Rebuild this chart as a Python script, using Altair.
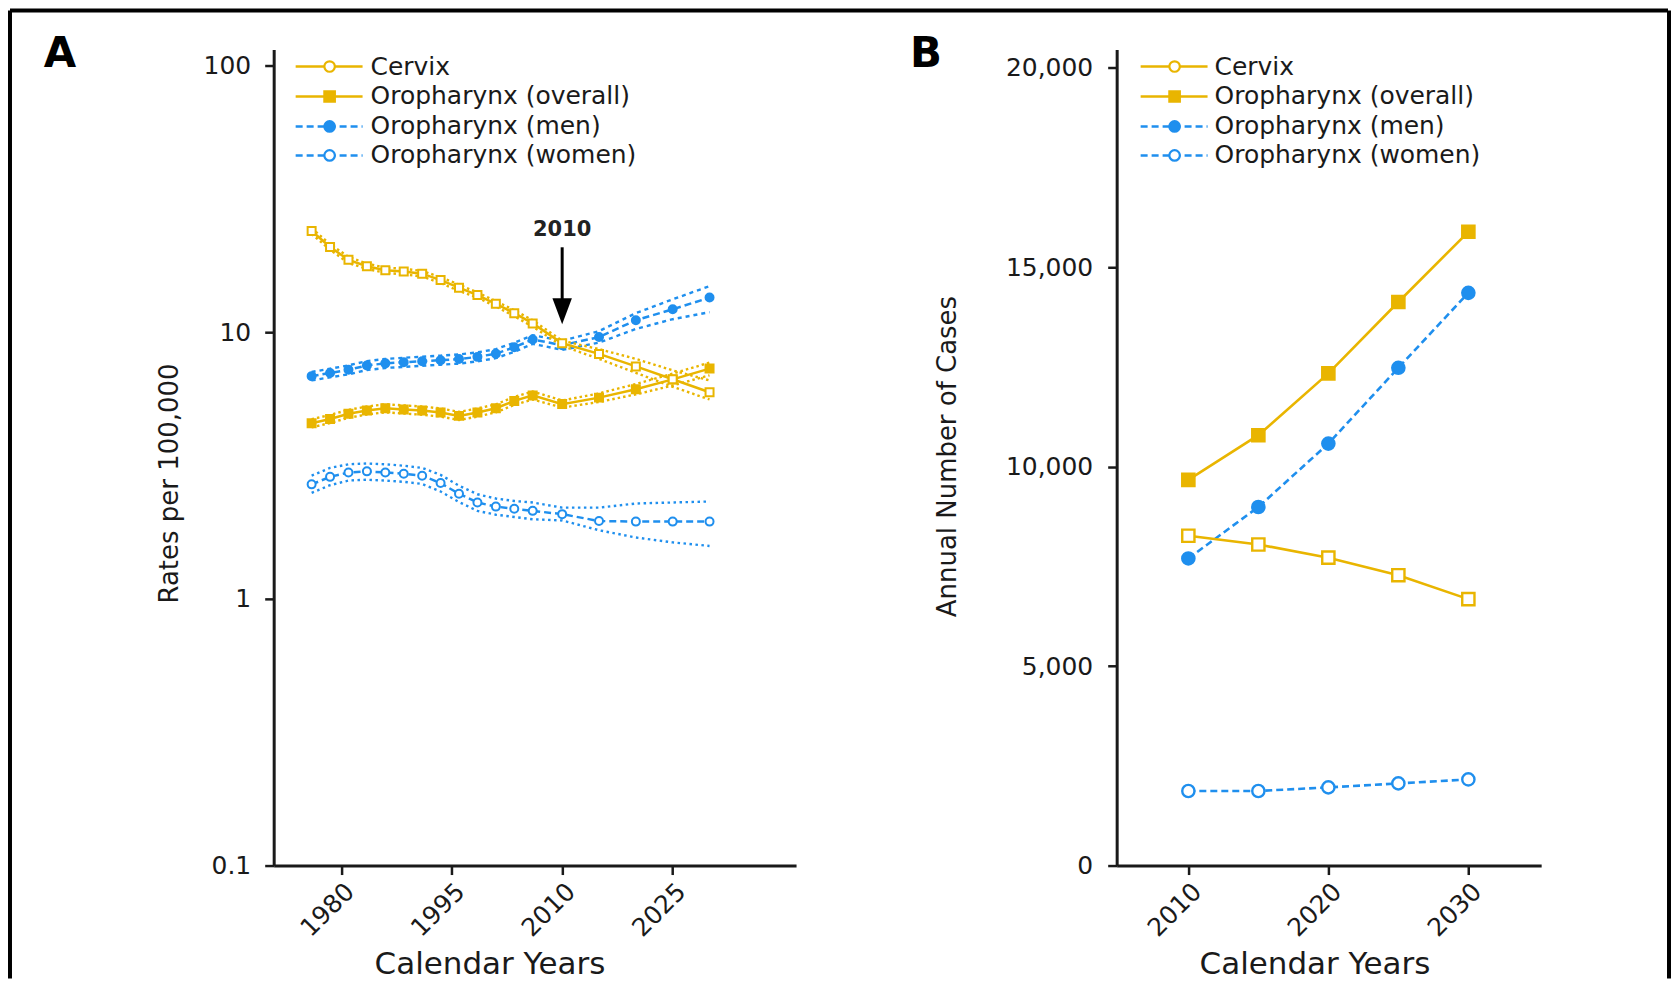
import altair as alt
import pandas as pd

FONT = "DejaVu Sans"
GOLD = "#E9B500"
BLUE = "#1F8FEE"
INK = "#1a1a1a"

series_names = ["Cervix", "Oropharynx (overall)", "Oropharynx (men)", "Oropharynx (women)"]

# ---------------- Panel A: rates per 100,000 (log scale) ----------------
years_a = [1976, 1978.5, 1981, 1983.5, 1986, 1988.5, 1991, 1993.5, 1996, 1998.5,
           2001, 2003.5, 2006, 2010, 2015, 2020, 2025, 2030]

cervix_a = [24.0, 20.9, 18.7, 17.7, 17.1, 16.9, 16.6, 15.7, 14.7, 13.8, 12.8, 11.8, 10.8,
            9.1, 8.3, 7.45, 6.67, 5.96]
cervix_a_hi = [24.6, 21.4, 19.2, 18.1, 17.5, 17.3, 17.0, 16.1, 15.1, 14.1, 13.1, 12.1, 11.1,
               9.3, 8.65, 7.95, 7.2, 6.6]
cervix_a_lo = [23.4, 20.4, 18.2, 17.3, 16.7, 16.5, 16.2, 15.3, 14.3, 13.5, 12.5, 11.5, 10.5,
               8.9, 7.95, 7.05, 6.25, 5.6]

overall_a = [4.56, 4.73, 4.95, 5.09, 5.19, 5.14, 5.09, 5.00, 4.86, 5.00, 5.19, 5.53, 5.80,
             5.38, 5.69, 6.12, 6.66, 7.31]
overall_a_hi = [4.72, 4.90, 5.12, 5.27, 5.37, 5.32, 5.27, 5.18, 5.03, 5.18, 5.37, 5.72, 6.00,
                5.55, 5.90, 6.40, 7.00, 7.70]
overall_a_lo = [4.40, 4.57, 4.78, 4.92, 5.01, 4.96, 4.91, 4.83, 4.69, 4.83, 5.01, 5.34, 5.60,
                5.22, 5.48, 5.85, 6.32, 6.90]

men_a = [6.85, 7.04, 7.24, 7.51, 7.65, 7.72, 7.79, 7.86, 7.94, 8.09, 8.32, 8.79, 9.40,
         8.95, 9.6, 11.1, 12.2, 13.5]
men_a_hi = [7.10, 7.30, 7.52, 7.80, 7.95, 8.03, 8.10, 8.18, 8.26, 8.41, 8.65, 9.14, 9.75,
            9.30, 10.1, 11.8, 13.3, 14.9]
men_a_lo = [6.60, 6.78, 6.96, 7.22, 7.35, 7.42, 7.49, 7.56, 7.63, 7.78, 8.00, 8.45, 9.05,
            8.60, 9.15, 10.3, 11.2, 11.9]

women_a = [2.69, 2.87, 2.98, 3.01, 2.98, 2.95, 2.90, 2.72, 2.48, 2.30, 2.22, 2.18, 2.14,
           2.08, 1.96, 1.95, 1.95, 1.95]
women_a_hi = [2.90, 3.10, 3.20, 3.22, 3.20, 3.16, 3.10, 2.92, 2.66, 2.47, 2.38, 2.33, 2.30,
              2.20, 2.20, 2.28, 2.30, 2.32]
women_a_lo = [2.50, 2.67, 2.78, 2.80, 2.78, 2.75, 2.70, 2.53, 2.31, 2.14, 2.07, 2.03, 1.99,
              1.97, 1.81, 1.70, 1.63, 1.58]

ticks_a_x = [1980, 1995, 2010, 2025]
ticks_a_y = [0.1, 1, 10, 100]
annotation_year = [2010]
annotation_label = ["2010"]

# ---------------- Panel B: annual number of cases ----------------
years_b = [2010, 2015, 2020, 2025, 2030]
cervix_b = [8270, 8050, 7720, 7280, 6680]
overall_b = [9670, 10790, 12340, 14130, 15890]
men_b = [7700, 8990, 10580, 12480, 14360]
women_b = [1870, 1870, 1960, 2060, 2160]

ticks_b_x = [2010, 2020, 2030]
ticks_b_y = [0, 5000, 10000, 15000, 20000]

panel_letters = ["A", "B"]

# ---------------- styles ----------------
styles = {
    "Cervix": {"color": GOLD, "dash": None, "shape": "square", "open": True, "lshape": "circle"},
    "Oropharynx (overall)": {"color": GOLD, "dash": None, "shape": "square", "open": False, "lshape": "square"},
    "Oropharynx (men)": {"color": BLUE, "dash": [7, 4], "shape": "circle", "open": False, "lshape": "circle"},
    "Oropharynx (women)": {"color": BLUE, "dash": [7, 4], "shape": "circle", "open": True, "lshape": "circle"},
}
band_dash = {"Cervix": [2.5, 3], "Oropharynx (overall)": [2.5, 3],
             "Oropharynx (men)": [4, 4], "Oropharynx (women)": [2.5, 3.5]}

a_data = {
    "Cervix": (cervix_a, cervix_a_hi, cervix_a_lo),
    "Oropharynx (overall)": (overall_a, overall_a_hi, overall_a_lo),
    "Oropharynx (men)": (men_a, men_a_hi, men_a_lo),
    "Oropharynx (women)": (women_a, women_a_hi, women_a_lo),
}
b_data = {
    "Cervix": cervix_b,
    "Oropharynx (overall)": overall_b,
    "Oropharynx (men)": men_b,
    "Oropharynx (women)": women_b,
}
draw_order = ["Oropharynx (women)", "Oropharynx (overall)", "Oropharynx (men)", "Cervix"]


def line_kw(st, width):
    kw = dict(color=st["color"], strokeWidth=width)
    if st["dash"]:
        kw["strokeDash"] = st["dash"]
    return kw


def point_kw(st, size, sw, shape):
    return dict(shape=shape, size=size, filled=True, opacity=1,
                fill="white" if st["open"] else st["color"],
                stroke=st["color"], strokeWidth=sw)


AX = dict(domainColor=INK, domainWidth=3, tickColor=INK, tickWidth=2.5, tickSize=9,
          labelFont=FONT, labelFontSize=25, labelColor=INK, labelFlush=False,
          labelOverlap=False, titleFont=FONT, titleColor=INK, titleFontWeight="normal",
          grid=False)

XA = alt.X("year:Q", title="Calendar Years",
           scale=alt.Scale(domain=[1970.85, 2041.74], nice=False, zero=False),
           axis=alt.Axis(values=ticks_a_x, format="d", labelAngle=-45, labelPadding=4,
                         titleFontSize=31, titleX=216, titleY=99, titleBaseline="middle",
                         titleAlign="center", **AX))
YA = alt.Y("value:Q", title="Rates per 100,000",
           scale=alt.Scale(type="log", domain=[0.1, 115], nice=False),
           axis=alt.Axis(values=ticks_a_y, labelPadding=14,
                         labelExpr="datum.value < 0.5 ? '0.1' : format(datum.value, 'd')",
                         titleFontSize=26, titleX=-104, titleY=434, titleBaseline="middle",
                         titleAlign="center", **AX))

XB = alt.X("year:Q", title="Calendar Years",
           scale=alt.Scale(domain=[2004.88, 2035.2], nice=False, zero=False),
           axis=alt.Axis(values=ticks_b_x, format="d", labelAngle=-45, labelPadding=4,
                         titleFontSize=31, titleX=198, titleY=99, titleBaseline="middle",
                         titleAlign="center", **AX))
YB = alt.Y("value:Q", title="Annual Number of Cases",
           scale=alt.Scale(domain=[0, 20460], nice=False),
           axis=alt.Axis(values=ticks_b_y, format=",d", labelPadding=15,
                         titleFontSize=26, titleX=-169, titleY=407, titleBaseline="middle",
                         titleAlign="center", **AX))

LEG_ROWS = [17, 47, 77, 106]


def legend_layers(x1, x2, xm, xt):
    out = []
    for i, n in enumerate(series_names):
        st = styles[n]
        d = pd.DataFrame({"name": [n]})
        y = LEG_ROWS[i]
        out.append(alt.Chart(d).mark_rule(**line_kw(st, 2.5)).encode(
            x=alt.value(x1), x2=alt.value(x2), y=alt.value(y)))
        out.append(alt.Chart(d).mark_point(**point_kw(st, 110, 2.2, st["lshape"])).encode(
            x=alt.value(xm), y=alt.value(y)))
        out.append(alt.Chart(d).mark_text(font=FONT, fontSize=25, color=INK, align="left",
                                          baseline="middle").encode(
            x=alt.value(xt), y=alt.value(y), text="name:N"))
    return out


def letter_layer(letter, x):
    d = pd.DataFrame({"t": [letter]})
    return alt.Chart(d).mark_text(font=FONT, fontSize=42, fontWeight="bold", color="black",
                                  align="center", baseline="middle").encode(
        x=alt.value(x), y=alt.value(4), text="t:N")


one = pd.DataFrame({"k": [0]})

# ---------------- Panel A layers ----------------
a_layers = []
for n in draw_order:
    st = styles[n]
    main, hi, lo = a_data[n]
    k = len(years_a)
    dm = pd.DataFrame({"year": years_a, "value": main})
    db = pd.DataFrame({"year": years_a + years_a, "value": hi + lo,
                       "bound": ["upper"] * k + ["lower"] * k})
    a_layers.append(alt.Chart(db).mark_line(color=st["color"], strokeWidth=2.4,
                                            strokeDash=band_dash[n]).encode(
        x=XA, y=YA, detail="bound:N"))
    a_layers.append(alt.Chart(dm).mark_line(**line_kw(st, 2.5)).encode(x=XA, y=YA))
    a_layers.append(alt.Chart(dm).mark_point(**point_kw(st, 64, 2, st["shape"])).encode(x=XA, y=YA))

ann = pd.DataFrame({"year": annotation_year, "label": annotation_label})
a_layers.append(alt.Chart(ann).mark_rule(color="black", strokeWidth=3).encode(
    x=XA, y=alt.value(198), y2=alt.value(266)))
a_layers.append(alt.Chart(ann).mark_point(shape="M -0.75 -1 L 0.75 -1 L 0 1 Z", size=676,
                                          filled=True, color="black", opacity=1).encode(
    x=XA, y=alt.value(262)))
a_layers.append(alt.Chart(ann).mark_text(font=FONT, fontSize=21, fontWeight="bold", color="#222",
                                         baseline="middle").encode(
    x=XA, y=alt.value(181), text="label:N"))
a_layers += legend_layers(22, 89, 56, 97)
a_layers.append(letter_layer(panel_letters[0], -214))
# outer frame (top and left edges)
a_layers.append(alt.Chart(one).mark_rule(color="black", strokeWidth=4).encode(
    x=alt.value(-264), x2=alt.value(1396), y=alt.value(-39)))
a_layers.append(alt.Chart(one).mark_rule(color="black", strokeWidth=4).encode(
    x=alt.value(-264), y=alt.value(-39), y2=alt.value(930)))

panel_a = alt.layer(*a_layers).properties(width=523, height=817)

# ---------------- Panel B layers ----------------
b_layers = []
for n in draw_order:
    st = styles[n]
    dm = pd.DataFrame({"year": years_b, "value": b_data[n]})
    b_layers.append(alt.Chart(dm).mark_line(**line_kw(st, 2.6)).encode(x=XB, y=YB))
    b_layers.append(alt.Chart(dm).mark_point(**point_kw(st, 150, 2.4, st["shape"])).encode(x=XB, y=YB))
b_layers += legend_layers(24, 91, 58, 98)
b_layers.append(letter_layer(panel_letters[1], -191))
b_layers.append(alt.Chart(one).mark_rule(color="black", strokeWidth=4).encode(
    x=alt.value(553), y=alt.value(-39), y2=alt.value(930)))

panel_b = alt.layer(*b_layers).properties(width=425, height=817)

chart = alt.hconcat(panel_a, panel_b, spacing=321, bounds="flush").properties(
    padding=0, background="white"
).configure_view(strokeWidth=0)

chart.save("out.html", embed_options={"renderer": "svg", "actions": False})
